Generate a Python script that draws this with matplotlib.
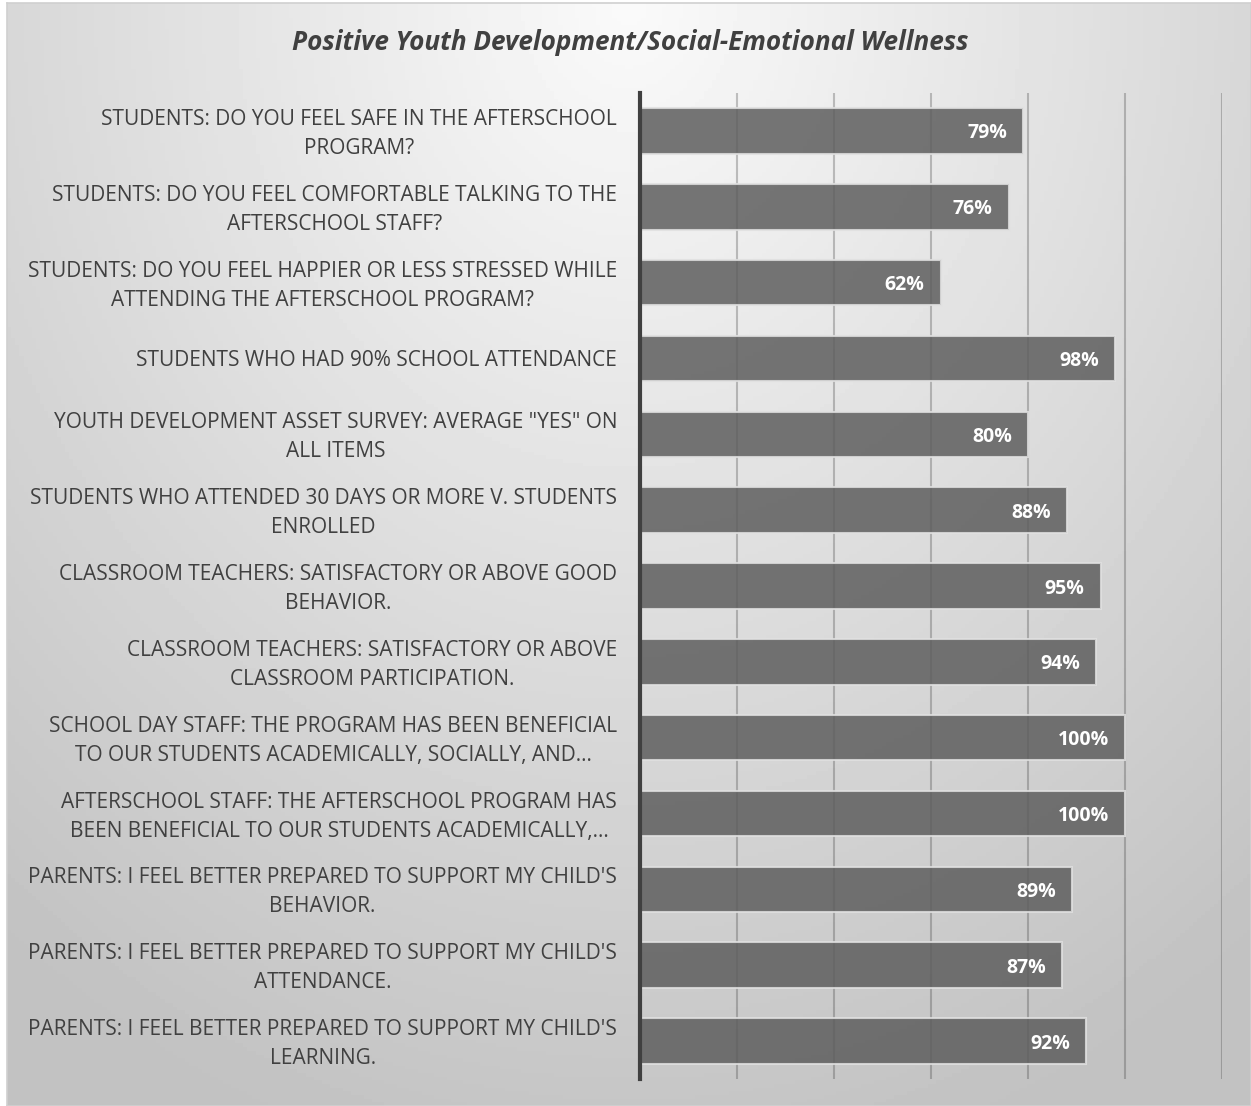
import numpy as np
import matplotlib
matplotlib.use('Agg')
import matplotlib.pyplot as plt
import matplotlib.transforms as mtransforms

labels = [
    "STUDENTS: DO YOU FEEL SAFE IN THE AFTERSCHOOL\nPROGRAM?",
    "STUDENTS: DO YOU FEEL COMFORTABLE TALKING TO THE\nAFTERSCHOOL STAFF?",
    "STUDENTS: DO YOU FEEL HAPPIER OR LESS STRESSED WHILE\nATTENDING THE AFTERSCHOOL PROGRAM?",
    "STUDENTS WHO HAD 90% SCHOOL ATTENDANCE",
    "YOUTH DEVELOPMENT ASSET SURVEY: AVERAGE \"YES\" ON\nALL ITEMS",
    "STUDENTS WHO ATTENDED 30 DAYS OR MORE V. STUDENTS\nENROLLED",
    "CLASSROOM TEACHERS: SATISFACTORY OR ABOVE GOOD\nBEHAVIOR.",
    "CLASSROOM TEACHERS: SATISFACTORY OR ABOVE\nCLASSROOM PARTICIPATION.",
    "SCHOOL DAY STAFF: THE PROGRAM HAS BEEN BENEFICIAL\nTO OUR STUDENTS ACADEMICALLY, SOCIALLY, AND\u2026",
    "AFTERSCHOOL STAFF: THE AFTERSCHOOL PROGRAM HAS\nBEEN BENEFICIAL TO OUR STUDENTS ACADEMICALLY,\u2026",
    "PARENTS: I FEEL BETTER PREPARED TO SUPPORT MY CHILD'S\nBEHAVIOR.",
    "PARENTS: I FEEL BETTER PREPARED TO SUPPORT MY CHILD'S\nATTENDANCE.",
    "PARENTS: I FEEL BETTER PREPARED TO SUPPORT MY CHILD'S\nLEARNING.",
]
values = [79, 76, 62, 98, 80, 88, 95, 94, 100, 100, 89, 87, 92]
grid_ticks = [0, 20, 40, 60, 80, 100, 120]

plt.rcParams['font.family'] = ['Open Sans', 'DejaVu Sans']

W, H = 1251, 1106
fig = plt.figure(figsize=(W / 100, H / 100), dpi=100)
fig.patch.set_facecolor('white')

# gray gradient background of the chart area
bg = fig.add_axes([7 / W, 0, (W - 7) / W, (H - 3) / H], zorder=0)
gx, gy = np.meshgrid(np.linspace(0, 1, 300), np.linspace(0, 1, 300))
d = np.sqrt(((gx - 0.5) / 0.75) ** 2 + (gy / 1.0) ** 2)
shade = np.clip(250 - 52 * d, 194, 250) / 255.0
bg.imshow(shade, cmap='gray', vmin=0, vmax=1, aspect='auto', origin='upper',
          extent=[0, 1, 0, 1])
bg.set_xticks([])
bg.set_yticks([])
for s in bg.spines.values():
    s.set_color('#d0d0d0')
    s.set_linewidth(1.2)

ax = fig.add_axes([640 / W, 1 - 1079 / H, (1222 - 640) / W, (1079 - 93) / H], zorder=1)
ax.patch.set_alpha(0)

y = np.arange(len(labels))
ax.barh(y, values, height=0.6, color='#5e5e5e', alpha=0.85,
        edgecolor='#e0e0e0', linewidth=1.5, zorder=3)

for yi, v in zip(y, values):
    ax.text(v - 3.3, yi, f"{v}%", ha='right', va='center_baseline', color='white',
            fontsize=14, fontweight='bold', zorder=4)

ax.set_xlim(0, 120)
ax.set_ylim(len(labels) - 0.5, -0.5)
ax.set_xticks(grid_ticks)
ax.set_xticklabels([])
ax.tick_params(axis='x', length=0)
ax.grid(axis='x', color='#404040', alpha=0.3, linewidth=1.5, zorder=1)

ax.set_yticks(y)
ax.set_yticklabels(labels, fontsize=15, color='#404040', multialignment='center',
                   linespacing=1.5)
ax.tick_params(axis='y', length=0, pad=16.5)

# two-line labels sit a little lower in the original
shift = mtransforms.ScaledTranslation(0, -3 / 100, fig.dpi_scale_trans)
for t in ax.get_yticklabels():
    if '\n' in t.get_text():
        t.set_verticalalignment('center')
        t.set_transform(t.get_transform() + shift)

for side in ['top', 'right', 'bottom']:
    ax.spines[side].set_visible(False)
ax.spines['left'].set_color('#404040')
ax.spines['left'].set_linewidth(3)
ax.spines['left'].set_zorder(5)

fig.text(630 / W, 1 - 43 / H, "Positive Youth Development/Social-Emotional Wellness",
         ha='center', va='center', fontsize=18.8, fontweight='bold', fontstyle='italic',
         color='#404040')

fig.savefig('out.png', dpi=100)
